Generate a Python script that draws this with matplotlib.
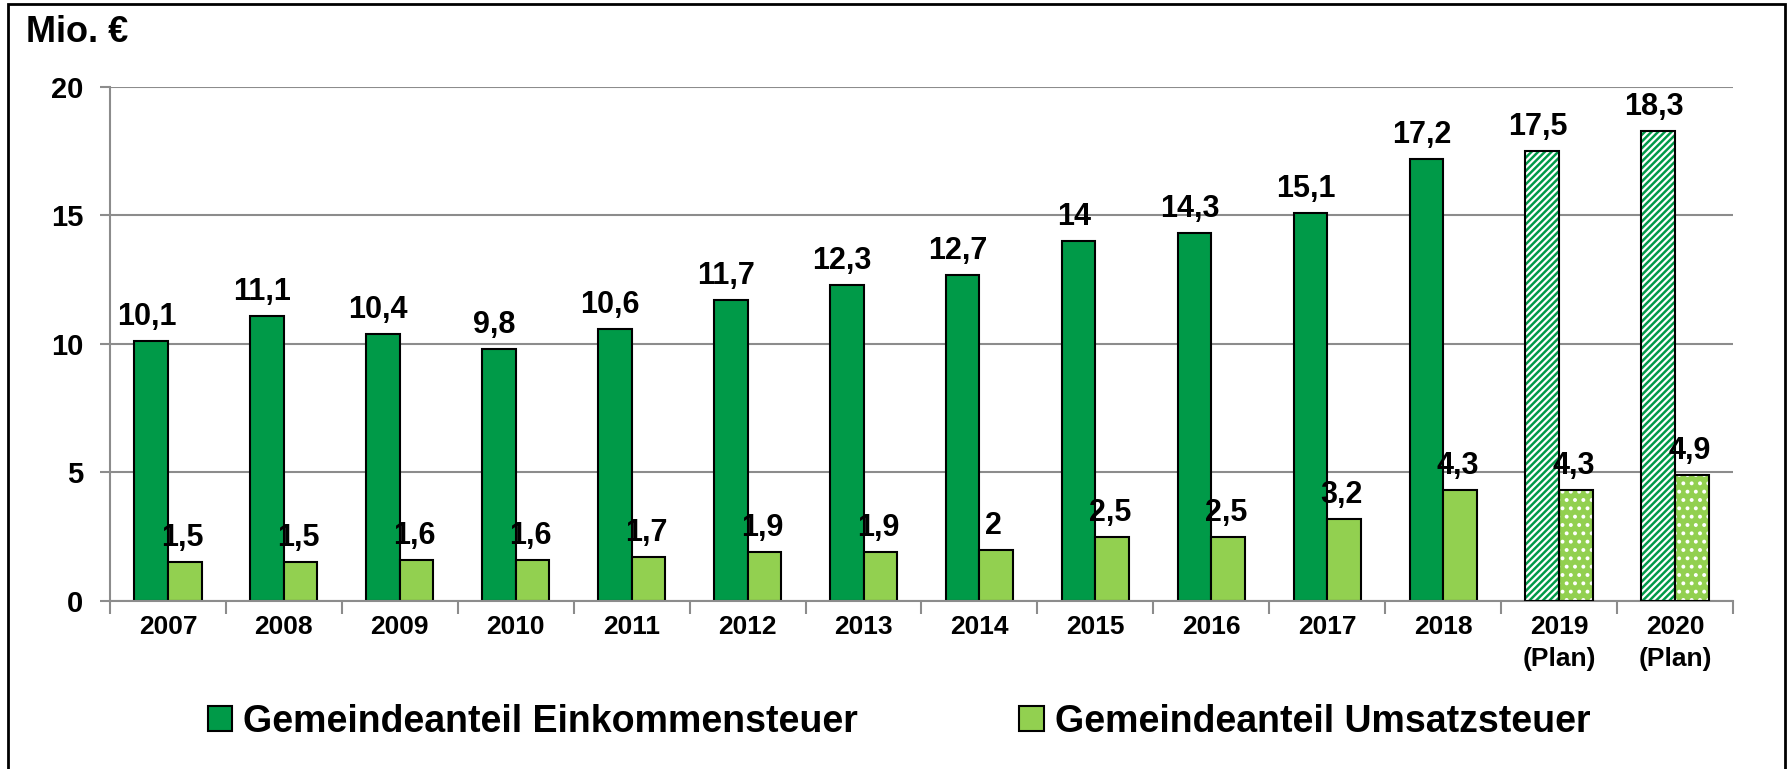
import numpy as np
import matplotlib
matplotlib.use("Agg")
import matplotlib.pyplot as plt
from matplotlib.patches import Rectangle

plt.rcParams['font.family'] = ['Liberation Sans', 'DejaVu Sans']
plt.rcParams['font.weight'] = 'bold'
plt.rcParams['hatch.linewidth'] = 1.6

# ---- data ----
years = ["2007", "2008", "2009", "2010", "2011", "2012", "2013", "2014",
         "2015", "2016", "2017", "2018", "2019\n(Plan)", "2020\n(Plan)"]
einkommen = [10.1, 11.1, 10.4, 9.8, 10.6, 11.7, 12.3, 12.7, 14, 14.3, 15.1, 17.2, 17.5, 18.3]
umsatz = [1.5, 1.5, 1.6, 1.6, 1.7, 1.9, 1.9, 2, 2.5, 2.5, 3.2, 4.3, 4.3, 4.9]
is_plan = [False] * 12 + [True, True]

DARK = "#009A48"
LIGHT = "#92D050"


def fmt(v):
    s = f"{v:.1f}".replace(".", ",")
    return s[:-2] if s.endswith(",0") else s


fig = plt.figure(figsize=(17.91, 7.69), dpi=100)
ax = fig.add_axes([0.0614, 0.2185, 0.9062, 0.6684])

x = np.arange(len(years))
w = 0.29

for i in range(len(years)):
    xd = x[i] - w / 2
    xl = x[i] + w / 2
    if is_plan[i]:
        ax.bar(xd, einkommen[i], w, color=DARK, edgecolor="white", hatch="/////", linewidth=0, zorder=2)
        ax.bar(xd, einkommen[i], w, fill=False, edgecolor="black", linewidth=1.5, zorder=3)
        ax.bar(xl, umsatz[i], w, color=LIGHT, edgecolor="white", hatch="..", linewidth=0, zorder=2)
        ax.bar(xl, umsatz[i], w, fill=False, edgecolor="black", linewidth=1.5, zorder=3)
    else:
        ax.bar(xd, einkommen[i], w, color=DARK, edgecolor="black", linewidth=1.5, zorder=2)
        ax.bar(xl, umsatz[i], w, color=LIGHT, edgecolor="black", linewidth=1.5, zorder=2)
    ax.text(xd - 0.04, einkommen[i] + 0.35, fmt(einkommen[i]), ha="center", va="bottom",
            fontsize=22, fontweight="bold", zorder=4)
    ax.text(xl - 0.02, umsatz[i] + 0.35, fmt(umsatz[i]), ha="center", va="bottom",
            fontsize=22, fontweight="bold", zorder=4)

ax.set_xlim(-0.5, len(years) - 0.5)
ax.set_ylim(0, 20)
ax.set_yticks([0, 5, 10, 15, 20])
ax.yaxis.grid(True, color="#8c8c8c", linewidth=1.5, zorder=0)
ax.set_axisbelow(True)

ax.set_xticks(x)
ax.set_xticklabels(years, fontsize=19, fontweight="bold", linespacing=1.45)
ax.set_xticks(np.arange(-0.5, len(years), 1), minor=True)
ax.tick_params(axis="x", which="major", length=0, pad=10)
ax.tick_params(axis="x", which="minor", length=9, width=1.5, color="#8c8c8c")
ax.tick_params(axis="y", length=7, width=1.5, color="#8c8c8c", labelsize=21, pad=12)
for lab in ax.get_yticklabels():
    lab.set_fontweight("bold")

for side in ["top", "right"]:
    ax.spines[side].set_visible(False)
for side in ["left", "bottom"]:
    ax.spines[side].set_color("#8c8c8c")
    ax.spines[side].set_linewidth(1.5)

fig.text(26 / 1791, 1 - 33 / 769, "Mio. €", fontsize=26, fontweight="bold", va="center", ha="left")

handles = [Rectangle((0, 0), 1, 1, facecolor=DARK, edgecolor="black", linewidth=1.5),
           Rectangle((0, 0), 1, 1, facecolor=LIGHT, edgecolor="black", linewidth=1.5)]
fig.legend(handles, ["Gemeindeanteil Einkommensteuer", "Gemeindeanteil Umsatzsteuer"],
           loc="center", bbox_to_anchor=(0.502, 1 - 722 / 769), ncol=2, frameon=False,
           prop={"size": 27, "weight": "bold"}, handlelength=0.65, handleheight=0.65,
           handletextpad=0.3, columnspacing=4.3)

fig.add_artist(Rectangle((8 / 1791, -0.02), 1777 / 1791, 1 - 4 / 769 + 0.02,
                         transform=fig.transFigure, fill=False, edgecolor="black", linewidth=2))

fig.savefig("out.png", dpi=100)
